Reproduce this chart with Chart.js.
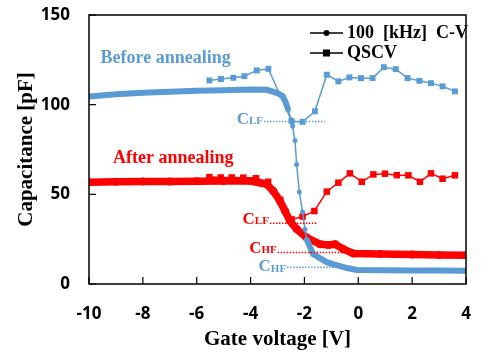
<!DOCTYPE html>
<html>
<head>
<meta charset="utf-8">
<script src="https://cdn.jsdelivr.net/npm/chart.js@4"></script>
<style>
  html, body { margin: 0; padding: 0; background: #fff; }
  #wrap { width: 482px; height: 354px; }
</style>
</head>
<body>
<div id="wrap"><canvas id="cv"></canvas></div>
<script>
// 100 kHz C-V, before annealing
const hfBeforeV = [-10, -9, -8, -7, -6, -5, -4, -3.4, -3.0, -2.8, -2.69, -2.6, -2.5, -2.44, -2.35, -2.29, -2.19, -2.07, -1.98, -1.92, -1.68, -1.17, -0.94, -0.42, -0.05, 1, 2, 3, 4];
const hfBeforeC = [104.5, 105.8, 106.6, 107.2, 107.7, 108.1, 108.4, 108.3, 106.5, 104.6, 101, 97, 91.7, 88, 80, 66.7, 51.3, 40.2, 30.5, 25, 16.7, 12.2, 11.1, 8.9, 7.8, 7.6, 7.5, 7.5, 7.4];

// QSCV, before annealing
const qsBeforeV = [-5.53, -5.1, -4.64, -4.23, -3.77, -3.34, -2.47, -2.07, -1.61, -1.17, -0.74, -0.33, 0.1, 0.53, 0.95, 1.39, 1.83, 2.27, 2.7, 3.13, 3.59];
const qsBeforeC = [113.5, 114.3, 115, 115.9, 119.1, 120, 90.7, 90.4, 96.3, 116.7, 113, 115.2, 114.8, 114.8, 120.9, 119.8, 114.8, 113.3, 112, 110.2, 107.4];

// 100 kHz C-V, after annealing
const hfAfterV = [-10, -9, -8, -7, -6, -5, -4, -3.4, -3.16, -2.91, -2.72, -2.54, -2.29, -1.92, -1.42, -1.11, -0.86, -0.55, -0.18, 0.81, 2, 3, 4];
const hfAfterC = [56.8, 57, 57.1, 57.2, 57.3, 57.4, 57.4, 55.6, 51.9, 46.3, 40.7, 35.2, 30.6, 25.9, 22.2, 21.7, 22.2, 19.4, 17.0, 16.7, 16.4, 16.2, 16.1];

// QSCV, after annealing
const qsAfterV = [-5.53, -5.11, -4.7, -4.27, -3.8, -3.35, -2.9, -2.47, -2.07, -1.63, -1.17, -0.74, -0.31, 0.13, 0.56, 0.99, 1.43, 1.86, 2.29, 2.7, 3.13, 3.59];
const qsAfterC = [59.6, 59.4, 59.4, 59.3, 59, 57, 47, 36, 37.6, 40.7, 51.5, 56.5, 61.7, 57, 61.1, 61.5, 60.7, 60.6, 57, 61.7, 58.7, 60.6];

const legendLabels = ["100  [kHz]  C-V", "QSCV"];
const xTitle = "Gate voltage [V]";
const yTitle = "Capacitance [pF]";

const BLUE = "#5b9bd5";
const RED = "#ff0000";
const SERIF = "'Liberation Serif', 'Times New Roman', serif";

// annotation labels: text, colour, anchor (data units)
const notes = [
  { text: "Before annealing", color: BLUE, x: -9.57, y: 125.6, align: "left" },
  { text: "After annealing", color: RED, x: -9.11, y: 70, align: "left" }
];
const capMarks = [
  { sub: "LF", color: BLUE, x: -3.54, y: 91.7, lineY: 90.6, x2: -1.24 },
  { sub: "LF", color: RED, x: -3.32, y: 36.1, lineY: 33.9, x2: -1.55 },
  { sub: "HF", color: RED, x: -3.03, y: 19.8, lineY: 17.6, x2: -0.38 },
  { sub: "HF", color: BLUE, x: -2.68, y: 9.6, lineY: 9.3, x2: -0.8 }
];

function pts(xs, ys) {
  return xs.map((x, i) => ({ x, y: ys[i] }));
}

// thin line where the curve is steep, thick where the dense markers merge
function hfWidth(thick) {
  return (ctx) => {
    const dx = Math.abs(ctx.p1.x - ctx.p0.x);
    const dy = Math.abs(ctx.p1.y - ctx.p0.y);
    return dy > 3 * dx ? 1.5 : thick;
  };
}

const framePlugin = {
  id: "frame",
  afterDraw(chart) {
    const { ctx, chartArea: a, scales } = chart;
    ctx.save();
    ctx.strokeStyle = "#000";
    ctx.lineWidth = 1.5;
    ctx.strokeRect(a.left, a.top, a.right - a.left, a.bottom - a.top);
    ctx.lineWidth = 1.2;
    scales.x.ticks.forEach((t) => {
      const px = scales.x.getPixelForValue(t.value);
      ctx.beginPath();
      ctx.moveTo(px, a.bottom);
      ctx.lineTo(px, a.bottom - 7);
      ctx.stroke();
    });
    scales.y.ticks.forEach((t) => {
      const py = scales.y.getPixelForValue(t.value);
      ctx.beginPath();
      ctx.moveTo(a.left, py);
      ctx.lineTo(a.left + 7, py);
      ctx.stroke();
    });

    // annotations
    ctx.textBaseline = "middle";
    ctx.font = "bold 18px " + SERIF;
    notes.forEach((n) => {
      ctx.fillStyle = n.color;
      ctx.textAlign = n.align;
      ctx.fillText(n.text, scales.x.getPixelForValue(n.x), scales.y.getPixelForValue(n.y));
    });

    capMarks.forEach((m) => {
      const right = scales.x.getPixelForValue(m.x);
      const cy = scales.y.getPixelForValue(m.y);
      ctx.fillStyle = m.color;
      ctx.textAlign = "left";
      ctx.font = "bold 11px " + SERIF;
      const subW = ctx.measureText(m.sub).width;
      ctx.font = "bold 17px " + SERIF;
      const cW = ctx.measureText("C").width;
      ctx.fillText("C", right - subW - cW, cy);
      ctx.font = "bold 11px " + SERIF;
      ctx.fillText(m.sub, right - subW, cy + 2);

      ctx.strokeStyle = m.color;
      ctx.lineWidth = 1.5;
      ctx.setLineDash([1.5, 1.5]);
      const ly = scales.y.getPixelForValue(m.lineY);
      ctx.beginPath();
      ctx.moveTo(right + 1, ly);
      ctx.lineTo(scales.x.getPixelForValue(m.x2), ly);
      ctx.stroke();
      ctx.setLineDash([]);
    });

    // legend (top right)
    const lx0 = a.left + 221, lx1 = a.left + 254;
    const rows = [a.top + 18, a.top + 38];
    ctx.strokeStyle = "#000";
    ctx.fillStyle = "#000";
    ctx.lineWidth = 1.5;
    rows.forEach((ry, i) => {
      ctx.beginPath();
      ctx.moveTo(lx0, ry);
      ctx.lineTo(lx1, ry);
      ctx.stroke();
      const mx = (lx0 + lx1) / 2;
      ctx.beginPath();
      if (i === 0) ctx.arc(mx, ry, 3, 0, Math.PI * 2);
      else ctx.rect(mx - 3.5, ry - 3.5, 7, 7);
      ctx.fill();
      ctx.font = "bold 18px " + SERIF;
      ctx.textAlign = "left";
      ctx.fillText(legendLabels[i], lx1 + 4, ry);
    });
    ctx.restore();
  }
};

new Chart(document.getElementById("cv"), {
  type: "line",
  data: {
    datasets: [
      {
        data: pts(hfBeforeV, hfBeforeC),
        borderColor: BLUE,
        backgroundColor: BLUE,
        pointRadius: 2.5,
        pointBorderWidth: 0,
        segment: { borderWidth: hfWidth(6) },
        borderWidth: 6
      },
      {
        data: pts(qsBeforeV, qsBeforeC),
        borderColor: BLUE,
        backgroundColor: BLUE,
        borderWidth: 1.5,
        pointStyle: "rect",
        pointRadius: 4.2,
        pointBorderWidth: 0
      },
      {
        data: pts(hfAfterV, hfAfterC),
        borderColor: RED,
        backgroundColor: RED,
        borderWidth: 7.5,
        pointRadius: 4,
        pointBorderWidth: 0
      },
      {
        data: pts(qsAfterV, qsAfterC),
        borderColor: RED,
        backgroundColor: RED,
        borderWidth: 1.5,
        pointStyle: "rect",
        pointRadius: 4.6,
        pointBorderWidth: 0
      }
    ]
  },
  options: {
    responsive: true,
    maintainAspectRatio: false,
    animation: false,
    layout: { padding: { top: 15, right: 16, left: 0, bottom: 0 } },
    plugins: { legend: { display: false }, tooltip: { enabled: false } },
    scales: {
      x: {
        type: "linear",
        min: -10,
        max: 4,
        grid: { display: false, drawTicks: true, tickLength: 19 },
        border: { display: false },
        ticks: {
          stepSize: 2,
          padding: 1,
          color: "#000",
          font: { family: "'Open Sans'", size: 17, weight: "bold" }
        },
        title: {
          display: true,
          text: xTitle,
          color: "#000",
          padding: { top: 0, bottom: 2 },
          font: { family: SERIF, size: 21, weight: "bold" }
        },
        afterFit: (s) => { s.height = 70; }
      },
      y: {
        min: 0,
        max: 150,
        grid: { display: false, drawTicks: true, tickLength: 18 },
        border: { display: false },
        ticks: {
          stepSize: 50,
          padding: 1,
          color: "#000",
          font: { family: "'Open Sans'", size: 17, weight: "bold" }
        },
        title: {
          display: true,
          text: yTitle,
          color: "#000",
          padding: { top: 14, bottom: 0 },
          font: { family: SERIF, size: 21, weight: "bold" }
        },
        afterFit: (s) => { s.width = 89; }
      }
    }
  },
  plugins: [framePlugin]
});
</script>
</body>
</html>
